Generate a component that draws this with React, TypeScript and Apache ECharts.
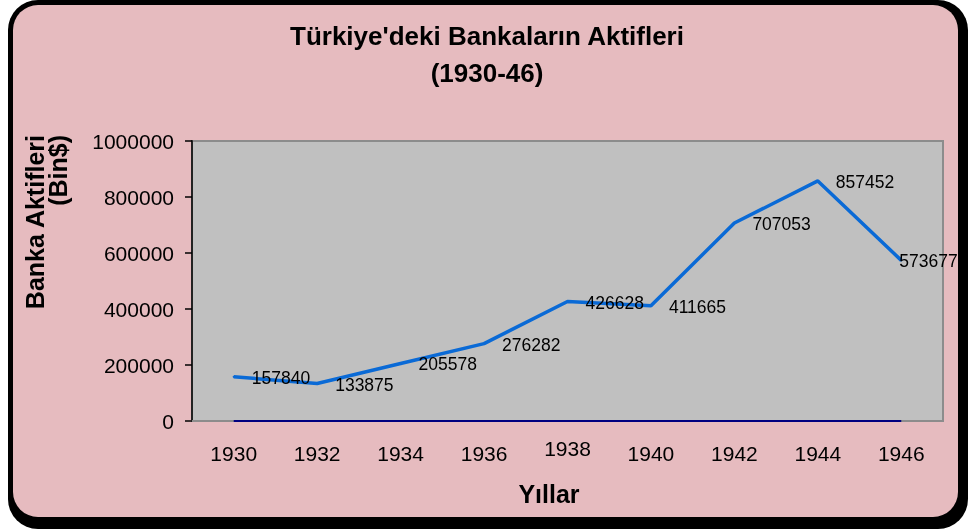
import React, { useEffect, useRef } from "react";
import * as echarts from "echarts";

const years: string[] = ["1930", "1932", "1934", "1936", "1938", "1940", "1942", "1944", "1946"];
const assets: number[] = [157840, 133875, 205578, 276282, 426628, 411665, 707053, 857452, 573677];
const baseline: number[] = [0, 0, 0, 0, 0, 0, 0, 0, 0];

const titleLines: string[] = ["Türkiye'deki Bankaların Aktifleri", "(1930-46)"];
const yName: string[] = ["Banka Aktifleri", "(Bin$)"];
const xName = "Yıllar";
const raisedYear = "1938";

const FONT = "'Liberation Sans', Arial, 'Noto Sans', sans-serif";

export default function App() {
  const ref = useRef<HTMLDivElement>(null);

  useEffect(() => {
    if (!ref.current) return;
    const chart = echarts.init(ref.current, undefined, { renderer: "svg" });

    const labelData = assets.map((v, i) =>
      i === assets.length - 1 ? { value: v, label: { offset: [-20, 1] } } : v
    );

    chart.setOption({
      animation: false,
      textStyle: { fontFamily: FONT },
      graphic: [
        {
          type: "rect",
          z: -100,
          silent: true,
          shape: { x: 8, y: 0, width: 960, height: 529, r: 30 },
          style: { fill: "#000000" },
        },
        {
          type: "rect",
          z: -99,
          silent: true,
          shape: { x: 13, y: 5, width: 945, height: 512, r: 25 },
          style: { fill: "#e6bbbf" },
        },
        {
          type: "text",
          z: 10,
          x: 487,
          y: 54,
          style: {
            text: titleLines.join("\n"),
            fontFamily: FONT,
            fontSize: 26,
            fontWeight: "bold",
            lineHeight: 37,
            fill: "#000000",
            align: "center",
            verticalAlign: "middle",
          },
        },
        {
          type: "text",
          z: 10,
          x: 46,
          y: 135,
          rotation: Math.PI / 2,
          style: {
            text: yName.join("\n"),
            fontFamily: FONT,
            fontSize: 25,
            fontWeight: "bold",
            lineHeight: 23,
            fill: "#000000",
            align: "right",
            verticalAlign: "middle",
          },
        },
        {
          type: "text",
          z: 10,
          x: 549,
          y: 494,
          style: {
            text: xName,
            fontFamily: FONT,
            fontSize: 25,
            fontWeight: "bold",
            fill: "#000000",
            align: "center",
            verticalAlign: "middle",
          },
        },
      ],
      grid: {
        left: 192,
        top: 141,
        right: 25,
        bottom: 111,
        show: true,
        backgroundColor: "#c0c0c0",
        borderColor: "#8c8c8c",
        borderWidth: 2,
        containLabel: false,
      },
      xAxis: {
        type: "category",
        data: years,
        boundaryGap: true,
        axisLine: { show: true, lineStyle: { color: "#8c8c8c", width: 2 } },
        axisTick: { show: false },
        axisLabel: {
          interval: 0,
          margin: 17,
          fontSize: 21,
          color: "#000000",
          fontFamily: FONT,
          formatter: (v: string) => (v === raisedYear ? `{up|${v}}` : `{n|${v}}`),
          rich: {
            n: { fontSize: 21, fontFamily: FONT, color: "#000000", padding: [5, 0, 0, 0] },
            up: { fontSize: 21, fontFamily: FONT, color: "#000000", padding: [0, 0, 5, 0] },
          },
        },
        splitLine: { show: false },
      },
      yAxis: {
        type: "value",
        min: 0,
        max: 1000000,
        interval: 200000,
        axisLine: { show: true, lineStyle: { color: "#222222", width: 2 } },
        axisTick: { show: true, inside: false, length: 7, lineStyle: { color: "#000000", width: 1.5 } },
        axisLabel: {
          margin: 18,
          fontSize: 21,
          color: "#000000",
          fontFamily: FONT,
          formatter: (v: number) => String(v),
        },
        splitLine: { show: false },
      },
      series: [
        {
          type: "line",
          data: baseline,
          symbol: "none",
          lineStyle: { color: "#000080", width: 2 },
          z: 3,
          silent: true,
        },
        {
          type: "line",
          data: labelData,
          symbol: "circle",
          symbolSize: 2,
          showSymbol: true,
          itemStyle: { color: "#0a6ad6" },
          lineStyle: { color: "#0a6ad6", width: 3.5 },
          z: 4,
          label: {
            show: true,
            position: "right",
            distance: 17,
            offset: [0, 1],
            fontSize: 17.5,
            color: "#000000",
            fontFamily: FONT,
          },
        },
      ],
    });

    return () => chart.dispose();
  }, []);

  return (
    <div
      ref={ref}
      style={{ position: "fixed", left: 0, top: 0, width: 968, height: 532 }}
    />
  );
}
